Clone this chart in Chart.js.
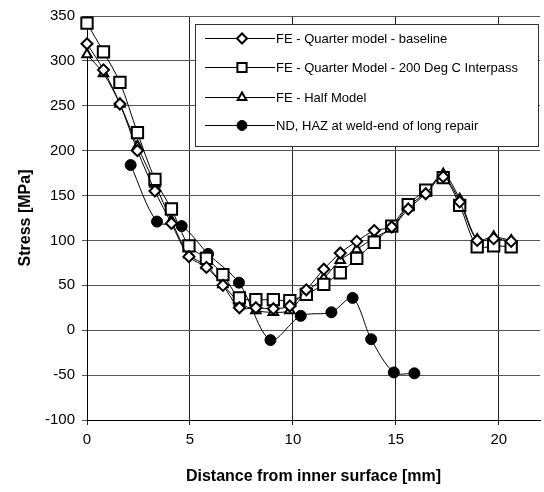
<!DOCTYPE html>
<html>
<head>
<meta charset="utf-8">
<script src="https://cdn.jsdelivr.net/npm/chart.js@4/dist/chart.umd.min.js"></script>
<style>
html,body{margin:0;padding:0;background:#fff;overflow:hidden;width:544px;height:492px;}
canvas{display:block;}
</style>
</head>
<body>
<canvas id="c" width="550" height="492" style="width:550px;height:492px"></canvas>
<script>
// ---- data ----
const feX = [0, 0.8, 1.6, 2.45, 3.3, 4.1, 4.95, 5.8, 6.6, 7.4, 8.2, 9.05, 9.85, 10.65, 11.5, 12.3, 13.1, 13.95, 14.8, 15.6, 16.45, 17.3, 18.1, 18.95, 19.75, 20.6];
const baseline = [319, 290, 252, 200, 155, 119, 82, 70, 50, 25, 25, 24, 27, 45, 68, 86, 99, 111, 115, 135, 152, 171, 143, 100, 102, 99];
const interpass = [342, 310, 276, 220, 168, 135, 94, 80, 62, 36, 34, 34, 33, 40, 51, 64, 80, 98, 116, 140, 156, 170, 139, 93, 94, 93];
const halfModel = [307, 286, 252, 205, 163, 122, 84, 72, 51, 31, 22, 20, 22, 43, 58, 78, 90, 103, 114, 138, 153, 174, 146, 101, 104, 100];
const ndX = [2.12, 3.4, 4.6, 5.88, 7.38, 8.91, 10.38, 11.87, 12.9, 13.8, 14.9, 15.9];
const ndHaz = [184, 121, 116, 85, 53, -11, 16, 20, 36, -10, -47, -48];
const seriesNames = ['FE - Quarter model - baseline', 'FE - Quarter Model - 200 Deg C Interpass', 'FE - Half Model', 'ND, HAZ at weld-end of long repair'];
const xTicks = [0, 5, 10, 15, 20];
const yTicks = [-100, -50, 0, 50, 100, 150, 200, 250, 300, 350];

const pts = (xs, ys) => xs.map((x, i) => ({x: x, y: ys[i]}));

const styles = [
  {pointStyle: 'rectRot', pointRadius: 5.5, pointBorderWidth: 2, pointBackgroundColor: '#fff'},
  {pointStyle: 'rect', pointRadius: 8, pointBorderWidth: 2, pointBackgroundColor: '#fff'},
  {pointStyle: 'triangle', pointRadius: 5.5, pointBorderWidth: 2, pointBackgroundColor: '#fff'},
  {pointStyle: 'circle', pointRadius: 5.5, pointBorderWidth: 1, pointBackgroundColor: '#000'}
];

const datasets = [
  pts(feX, baseline), pts(feX, interpass), pts(feX, halfModel), pts(ndX, ndHaz)
].map((d, i) => Object.assign({
  label: seriesNames[i],
  data: d,
  showLine: true,
  borderColor: '#000',
  borderWidth: 1,
  pointBorderColor: '#000',
  tension: 0.3,
  clip: false
}, styles[i]));

const legendPlugin = {
  id: 'boxLegend',
  afterDatasetsDraw(chart) {
    const ctx = chart.ctx;
    const bx = 195.5, by = 24.5, bw = 343, bh = 122;
    ctx.save();
    ctx.fillStyle = '#fff';
    ctx.fillRect(bx, by, bw, bh);
    ctx.strokeStyle = '#333';
    ctx.lineWidth = 1;
    ctx.strokeRect(bx, by, bw, bh);
    const rows = [38, 67, 97, 125];
    ctx.font = '13px "Liberation Sans", Arial, sans-serif';
    ctx.textBaseline = 'middle';
    ctx.textAlign = 'left';
    rows.forEach((ry, i) => {
      const ds = chart.data.datasets[i];
      ctx.strokeStyle = '#000';
      ctx.lineWidth = 1;
      ctx.beginPath();
      ctx.moveTo(205, ry + 0.5);
      ctx.lineTo(275, ry + 0.5);
      ctx.stroke();
      ctx.fillStyle = ds.pointBackgroundColor;
      ctx.strokeStyle = '#000';
      ctx.lineWidth = ds.pointBorderWidth;
      Chart.helpers.drawPoint(ctx, {pointStyle: ds.pointStyle, radius: ds.pointStyle === 'rect' ? 6.5 : 5, rotation: 0, borderWidth: ds.pointBorderWidth}, 242, ry + 0.5);
      ctx.fillStyle = '#000';
      ctx.fillText(ds.label, 276, ry + 1);
    });
    ctx.restore();
  }
};

new Chart(document.getElementById('c'), {
  type: 'scatter',
  data: {datasets: datasets},
  options: {
    responsive: false,
    animation: false,
    layout: {padding: {top: 13, right: 0, left: 12, bottom: 0}},
    plugins: {legend: {display: false}, tooltip: {enabled: false}},
    scales: {
      x: {
        type: 'linear', min: 0, max: 22,
        afterBuildTicks: s => { s.ticks = xTicks.map(v => ({value: v})); },
        afterFit: s => { s.height = 72; },
        ticks: {color: '#000', font: {family: '"Liberation Sans", Arial, sans-serif', size: 15}, padding: 6, maxRotation: 0},
        grid: {color: '#222', lineWidth: 1, tickLength: 5, drawTicks: true},
        border: {color: '#000', width: 1},
        title: {display: true, text: 'Distance from inner surface [mm]', color: '#000',
          font: {family: '"Liberation Sans", Arial, sans-serif', size: 16, weight: 'bold'}, padding: {top: 2, bottom: 6}}
      },
      y: {
        type: 'linear', min: -100, max: 350,
        afterBuildTicks: s => { s.ticks = yTicks.map(v => ({value: v})); },
        afterFit: s => { s.width = 75; },
        ticks: {color: '#000', font: {family: '"Liberation Sans", Arial, sans-serif', size: 15}, padding: 7},
        grid: {color: '#555', lineWidth: 1, tickLength: 5},
        border: {color: '#000', width: 1},
        title: {display: true, text: 'Stress [MPa]', color: '#000',
          font: {family: '"Liberation Sans", Arial, sans-serif', size: 16, weight: 'bold'}, padding: {bottom: 4}}
      }
    }
  },
  plugins: [legendPlugin]
});
</script>
</body>
</html>
